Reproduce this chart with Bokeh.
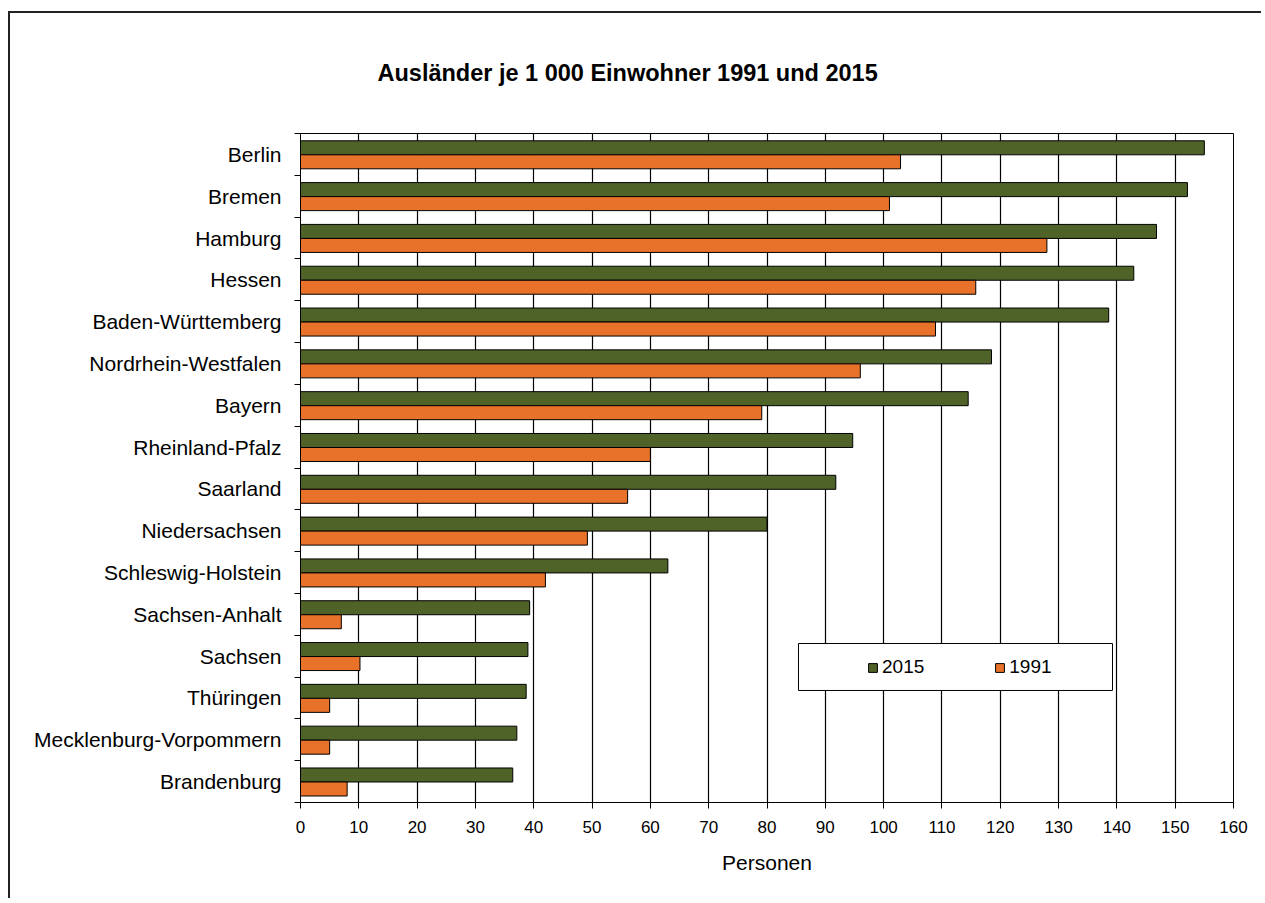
from bokeh.plotting import figure
from bokeh.models import (Range1d, FixedTicker, ColumnDataSource, Legend, LegendItem,
                          BoxAnnotation)
from bokeh.embed import file_html
from bokeh.resources import INLINE
import numpy as np

# ---- data (top to bottom as in the chart) ----
states = ["Berlin", "Bremen", "Hamburg", "Hessen", "Baden-Württemberg",
          "Nordrhein-Westfalen", "Bayern", "Rheinland-Pfalz", "Saarland",
          "Niedersachsen", "Schleswig-Holstein", "Sachsen-Anhalt", "Sachsen",
          "Thüringen", "Mecklenburg-Vorpommern", "Brandenburg"]
values_2015 = [155.0, 152.1, 146.8, 142.9, 138.6, 118.5, 114.5, 94.7, 91.8,
               80.0, 63.0, 39.3, 39.0, 38.7, 37.1, 36.4]
values_1991 = [102.9, 101.0, 128.0, 115.8, 108.9, 96.0, 79.1, 60.0, 56.1,
               49.2, 42.0, 7.0, 10.2, 5.0, 5.0, 8.0]
x_ticks = list(range(0, 161, 10))
title_text = "Ausländer je 1 000 Einwohner 1991 und 2015"
x_label = "Personen"
series_labels = ["2015", "1991"]
colors = ["#4F6228", "#E8722A"]

FONT = "Liberation Sans"
n = len(states)
pos = np.arange(n)[::-1].astype(float)   # Berlin at the top

src = ColumnDataSource(dict(state=states, pos=pos,
                            v2015=values_2015, v1991=values_1991,
                            y2015=pos + 0.158, y1991=pos - 0.177))

p = figure(width=1261, height=898,
           x_range=Range1d(0, 160), y_range=Range1d(-0.5, n - 0.5),
           output_backend="svg", toolbar_location=None,
           min_border_left=300, min_border_top=133,
           min_border_right=28, min_border_bottom=96)
# outer chart-area border (left and top edges visible in the picture)
p.styles = {"background-image": "linear-gradient(#222, #222), linear-gradient(#222, #222)",
            "background-size": "100% 2px, 2px 100%",
            "background-position": "8px 11px, 8px 11px",
            "background-repeat": "no-repeat"}
p.border_fill_alpha = 0

p.title.text = title_text
p.title.text_font = FONT
p.title.text_font_size = "23.5px"
p.title.text_font_style = "bold"
p.title.text_color = "black"
p.title.align = "left"
p.title.offset = 77
p.title.standoff = 95

p.outline_line_color = "black"
p.outline_line_width = 1
p.background_fill_color = "white"

# grid
p.xgrid.ticker = FixedTicker(ticks=x_ticks)
p.xgrid.grid_line_color = "black"
p.xgrid.grid_line_width = 1.2
p.ygrid.grid_line_color = None

bar_h = 0.335
g = p.hbar(y="y2015", right="v2015", left=0, height=bar_h, source=src,
           fill_color=colors[0], line_color="black", line_width=1)
o = p.hbar(y="y1991", right="v1991", left=0, height=bar_h, source=src,
           fill_color=colors[1], line_color="black", line_width=1)

# x axis
xa = p.xaxis[0]
xa.ticker = FixedTicker(ticks=x_ticks)
xa.major_label_text_font = FONT
xa.major_label_text_font_size = "17px"
xa.major_label_text_color = "black"
xa.major_tick_out = 6
xa.major_tick_in = 0
xa.major_tick_line_color = "black"
xa.minor_tick_line_color = None
xa.axis_line_color = "black"
xa.major_label_standoff = 12
xa.axis_label = x_label
xa.axis_label_text_font = FONT
xa.axis_label_text_font_size = "21px"
xa.axis_label_text_font_style = "normal"
xa.axis_label_text_color = "black"
xa.axis_label_standoff = 15

# y axis: labels at band centres, tick marks at band boundaries
ya = p.yaxis[0]
ya.ticker = FixedTicker(ticks=[int(v) for v in pos],
                        minor_ticks=[i - 0.5 for i in range(n + 1)])
ya.major_label_overrides = {int(pp): s for pp, s in zip(pos, states)}
ya.major_label_text_font = FONT
ya.major_label_text_font_size = "21px"
ya.major_label_text_color = "black"
ya.major_tick_out = 0
ya.major_tick_in = 0
ya.minor_tick_out = 6
ya.minor_tick_in = 0
ya.minor_tick_line_color = "black"
ya.axis_line_color = "black"
ya.major_label_standoff = 13

# legend frame + legend
box = BoxAnnotation(left=85.4, right=139.25, bottom=2.179, top=3.303,
                    fill_color="white", fill_alpha=1.0,
                    line_color="black", line_alpha=1.0, line_width=1)
p.add_layout(box)

legend = Legend(items=[LegendItem(label=series_labels[0], renderers=[g]),
                       LegendItem(label=series_labels[1], renderers=[o])],
                orientation="horizontal", location=(567, 124),
                margin=0, padding=0, spacing=70,
                glyph_width=11, glyph_height=11, label_standoff=4,
                label_width=41, label_height=11,
                label_text_font=FONT, label_text_font_size="19px",
                label_text_color="black",
                border_line_color=None, background_fill_alpha=0)
p.add_layout(legend, "center")

open("out.html", "w").write(file_html(p, INLINE))
